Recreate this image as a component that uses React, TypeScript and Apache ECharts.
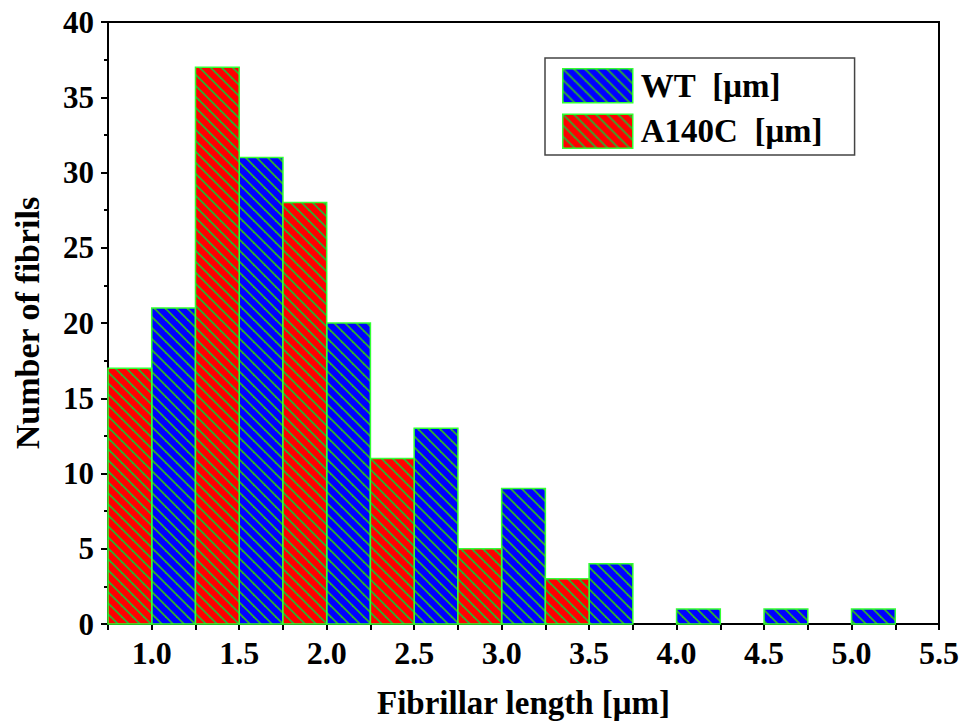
import React, { useEffect, useRef } from "react";
import * as echarts from "echarts";

// Histogram bins (left edge of each bin, in µm) and counts
const binWidth = 0.25;
const wtBinStart = [1.0, 1.5, 2.0, 2.5, 3.0, 3.5, 4.0, 4.5, 5.0];
const wtCounts = [21, 31, 20, 13, 9, 4, 1, 1, 1];
const a140cBinStart = [0.75, 1.25, 1.75, 2.25, 2.75, 3.25];
const a140cCounts = [17, 37, 28, 11, 5, 3];

// non-breaking space keeps the double gap in SVG text
const seriesNames = ["WT\u00a0 [μm]", "A140C\u00a0 [μm]"];
const xTitle = "Fibrillar length [μm]";
const yTitle = "Number of fibrils";

const FONT = "'Liberation Serif', 'Times New Roman', serif";
const STRIPE = "#2fae2f";
const EDGE = "#33ff33";

// Diagonal-hatched fill tile
function hatch(bg: string) {
  const s = 11;
  const c = document.createElement("canvas");
  c.width = s;
  c.height = s;
  const ctx = c.getContext("2d")!;
  ctx.fillStyle = bg;
  ctx.fillRect(0, 0, s, s);
  ctx.strokeStyle = STRIPE;
  ctx.lineWidth = 1.8;
  for (let k = -1; k <= 1; k++) {
    ctx.beginPath();
    ctx.moveTo(k * s - 1, -1);
    ctx.lineTo(k * s + s + 1, s + 1);
    ctx.stroke();
  }
  return { image: c, repeat: "repeat", imageWidth: s, imageHeight: s } as any;
}

export default function App() {
  const ref = useRef<HTMLDivElement>(null);

  useEffect(() => {
    if (!ref.current) return;
    const chart = echarts.init(ref.current, undefined, { renderer: "svg" });
    const blueFill = hatch("#0000ff");
    const redFill = hatch("#ff0000");

    const toData = (starts: number[], counts: number[]) =>
      starts.map((s, i) => [s, s + binWidth, counts[i]]);

    const renderBar = (fill: any) => (params: any, api: any) => {
      const p0 = api.coord([api.value(0), api.value(2)]);
      const p1 = api.coord([api.value(1), 0]);
      return {
        type: "rect",
        shape: { x: p0[0], y: p0[1], width: p1[0] - p0[0], height: p1[1] - p0[1] },
        style: { fill, stroke: EDGE, lineWidth: 1.5 },
      };
    };

    chart.setOption({
      animation: false,
      backgroundColor: "#ffffff",
      textStyle: { fontFamily: FONT },
      grid: {
        left: 108,
        right: 25,
        top: 22,
        bottom: 97,
        show: true,
        borderColor: "#000",
        borderWidth: 2,
        backgroundColor: "transparent",
      },
      legend: {
        left: 545,
        top: 58,
        orient: "vertical",
        padding: [10, 32, 6, 17],
        itemGap: 10,
        itemWidth: 70,
        itemHeight: 34,
        borderColor: "#444",
        borderWidth: 1.5,
        selectedMode: false,
        textStyle: {
          fontFamily: FONT,
          fontWeight: "bold",
          fontSize: 33,
          lineHeight: 34,
          color: "#000",
          padding: [0, 0, 0, 3],
        },
        data: [
          {
            name: seriesNames[0],
            icon: "rect",
            itemStyle: { color: blueFill, borderColor: EDGE, borderWidth: 1.5 },
          },
          {
            name: seriesNames[1],
            icon: "rect",
            itemStyle: { color: redFill, borderColor: EDGE, borderWidth: 1.5 },
          },
        ],
      },
      xAxis: {
        type: "value",
        min: 0.75,
        max: 5.5,
        interval: 0.25,
        splitLine: { show: false },
        axisLine: { show: true, lineStyle: { color: "#000", width: 2 } },
        axisTick: { show: true, inside: false, length: 6, lineStyle: { color: "#000", width: 2 } },
        axisLabel: {
          margin: 13,
          fontFamily: FONT,
          fontWeight: "bold",
          fontSize: 32,
          color: "#000",
          formatter: (v: number) =>
            Math.abs(v * 2 - Math.round(v * 2)) < 1e-6 ? v.toFixed(1) : "",
        },
        name: xTitle,
        nameLocation: "middle",
        nameGap: 62,
        nameTextStyle: { fontFamily: FONT, fontWeight: "bold", fontSize: 33, color: "#000" },
      },
      yAxis: {
        type: "value",
        min: 0,
        max: 40,
        interval: 5,
        splitLine: { show: false },
        axisLine: { show: true, lineStyle: { color: "#000", width: 2 } },
        axisTick: { show: true, inside: false, length: 7, lineStyle: { color: "#000", width: 2 } },
        minorTick: { show: true, splitNumber: 2, length: 4, lineStyle: { color: "#000", width: 2 } },
        axisLabel: {
          margin: 14,
          fontFamily: FONT,
          fontWeight: "bold",
          fontSize: 31,
          color: "#000",
        },
        name: yTitle,
        nameLocation: "middle",
        nameGap: 64,
        nameTextStyle: { fontFamily: FONT, fontWeight: "bold", fontSize: 34, color: "#000" },
      },
      series: [
        {
          name: seriesNames[0],
          type: "custom",
          itemStyle: { color: blueFill, borderColor: EDGE, borderWidth: 1.5 },
          encode: { x: [0, 1], y: 2 },
          data: toData(wtBinStart, wtCounts),
          renderItem: renderBar(blueFill),
        },
        {
          name: seriesNames[1],
          type: "custom",
          itemStyle: { color: redFill, borderColor: EDGE, borderWidth: 1.5 },
          encode: { x: [0, 1], y: 2 },
          data: toData(a140cBinStart, a140cCounts),
          renderItem: renderBar(redFill),
        },
      ],
    });

    return () => chart.dispose();
  }, []);

  return (
    <div
      ref={ref}
      style={{ position: "fixed", left: 0, top: 0, width: 964, height: 724, background: "#fff" }}
    />
  );
}
